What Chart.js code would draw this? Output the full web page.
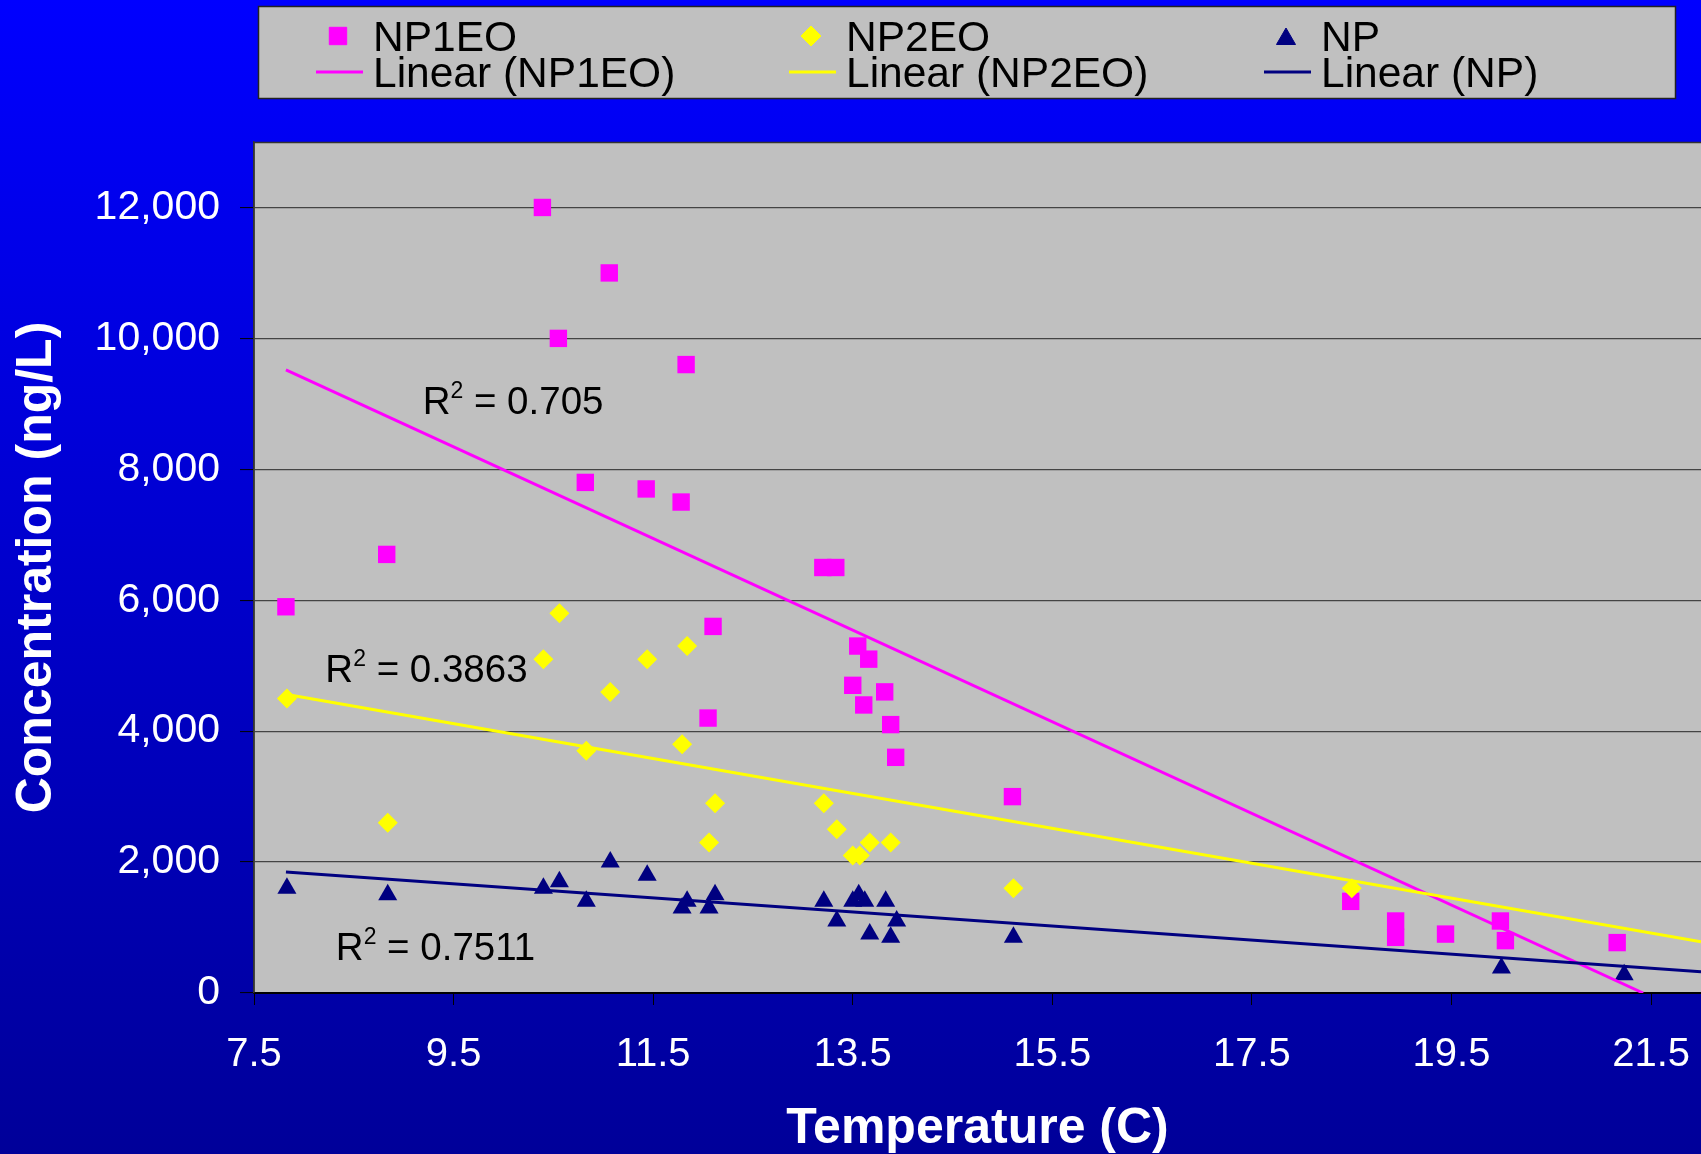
<!DOCTYPE html>
<html>
<head>
<meta charset="utf-8">
<script src="https://cdn.jsdelivr.net/npm/chart.js@4.4.0/dist/chart.umd.min.js"></script>
<style>
html,body{margin:0;padding:0;overflow:hidden;background:#0000cc;}
canvas{display:block}
</style>
</head>
<body>
<canvas id="c" width="1701" height="1154"></canvas>
<script>
// ---------- data ----------
const xTickValues = [7.5, 9.5, 11.5, 13.5, 15.5, 17.5, 19.5, 21.5];
const yTickValues = [0, 2000, 4000, 6000, 8000, 10000, 12000];

const np1eoTemp = [7.82, 8.83, 10.39, 10.55, 10.82, 11.06, 11.43, 11.78, 11.83, 12.05, 12.10, 13.20, 13.33, 13.50, 13.55, 13.61, 13.66, 13.82, 13.88, 13.93, 15.10, 18.49, 18.94, 18.94, 19.44, 19.99, 20.04, 21.16];
const np1eoConc = [5900, 6700, 12000, 10000, 7800, 11000, 7700, 7500, 9600, 4200, 5600, 6500, 6500, 4700, 5300, 4400, 5100, 4600, 4100, 3600, 3000, 1400, 1100, 850, 900, 1100, 800, 770];

const np2eoTemp = [7.83, 8.84, 10.40, 10.56, 10.83, 11.07, 11.44, 11.79, 11.84, 12.06, 12.12, 13.21, 13.34, 13.50, 13.57, 13.67, 13.88, 15.11, 18.50];
const np2eoConc = [4500, 2600, 5100, 5800, 3700, 4600, 5100, 3800, 5300, 2300, 2900, 2900, 2500, 2100, 2100, 2300, 2300, 1600, 1600];

const npTemp = [7.83, 8.84, 10.40, 10.56, 10.83, 11.07, 11.44, 11.79, 11.84, 12.06, 12.12, 13.21, 13.34, 13.50, 13.56, 13.62, 13.67, 13.83, 13.88, 13.94, 15.11, 20.00, 21.23];
const npConc = [1600, 1500, 1600, 1700, 1400, 2000, 1800, 1300, 1400, 1300, 1500, 1400, 1100, 1400, 1500, 1400, 900, 1400, 850, 1100, 850, 380, 280];

// trend line end points (as drawn in the picture)
const trendNP1EOTemp = [7.82, 21.42];
const trendNP1EOConc = [9520, 0];
const trendNP2EOTemp = [7.83, 22.0];
const trendNP2EOConc = [4560, 783];
const trendNPTemp = [7.82, 22.0];
const trendNPConc = [1850, 325];

// R-squared annotations
const r2Values = ['0.705', '0.3863', '0.7511'];
const r2AnchorTemp = [9.19, 8.215, 8.32];
const r2AnchorConc = [8850, 4750, 504];

// ---------- chart ----------
const FONT = '"Liberation Sans", Arial, Helvetica, sans-serif';
Chart.defaults.font.family = FONT;

function pts(xs, ys) { return xs.map((x, i) => ({x: x, y: ys[i]})); }

const MAGENTA = '#ff00ff', YELLOW = '#ffff00', NAVY = '#000080';

const bgPlugin = {
  id: 'bg',
  beforeDraw(chart) {
    const {ctx, width, height, chartArea: a} = chart;
    ctx.save();
    const g = ctx.createLinearGradient(0, 0, 0, height);
    g.addColorStop(0, '#0000ff');
    g.addColorStop(1, '#000099');
    ctx.fillStyle = g;
    ctx.fillRect(0, 0, width, height);
    ctx.fillStyle = '#c0c0c0';
    ctx.fillRect(a.left, a.top, a.right - a.left + 2, a.bottom - a.top);
    ctx.strokeStyle = '#333';
    ctx.lineWidth = 1.5;
    ctx.beginPath();
    ctx.moveTo(a.left, a.bottom);
    ctx.lineTo(a.left, a.top + 0.5);
    ctx.lineTo(a.right + 2, a.top + 0.5);
    ctx.stroke();
    ctx.restore();
  }
};

function drawMarker(ctx, style, r, x, y) {
  if (Chart.helpers && Chart.helpers.drawPoint) {
    Chart.helpers.drawPoint(ctx, {pointStyle: style, radius: r, rotation: 0, borderWidth: 1}, x, y);
    return;
  }
  ctx.beginPath();
  if (style === 'rect') {
    const s = r * Math.SQRT1_2;
    ctx.rect(x - s, y - s, 2 * s, 2 * s);
  } else if (style === 'rectRot') {
    ctx.moveTo(x, y - r); ctx.lineTo(x + r, y); ctx.lineTo(x, y + r); ctx.lineTo(x - r, y); ctx.closePath();
  } else {
    ctx.moveTo(x, y - r);
    ctx.lineTo(x + r * Math.sin(2 * Math.PI / 3), y - r * Math.cos(2 * Math.PI / 3));
    ctx.lineTo(x + r * Math.sin(4 * Math.PI / 3), y - r * Math.cos(4 * Math.PI / 3));
    ctx.closePath();
  }
  ctx.fill(); ctx.stroke();
}

const legendPlugin = {
  id: 'customLegend',
  afterDraw(chart) {
    const ctx = chart.ctx;
    const ds = chart.data.datasets;
    ctx.save();
    ctx.fillStyle = '#c0c0c0';
    ctx.fillRect(258, 6, 1418, 93);
    ctx.strokeStyle = '#222';
    ctx.lineWidth = 1.5;
    ctx.strokeRect(258.5, 6.5, 1417, 92);
    const cols = [373, 846, 1321];
    const scatterSets = ds.filter(d => !d.showLine);
    const lineSets = ds.filter(d => d.showLine);
    ctx.font = '42.5px ' + FONT;
    ctx.textBaseline = 'alphabetic';
    ctx.textAlign = 'left';
    for (let i = 0; i < 3; i++) {
      const s = scatterSets[i], l = lineSets[i];
      const x = cols[i];
      ctx.fillStyle = s.backgroundColor;
      ctx.strokeStyle = s.borderColor;
      ctx.lineWidth = 1;
      drawMarker(ctx, s.pointStyle, s.pointRadius, x - 35, s.pointStyle === 'triangle' ? 39 : 36);
      ctx.fillStyle = '#000';
      ctx.fillText(s.label, x, 51);
      ctx.strokeStyle = l.borderColor;
      ctx.lineWidth = 3;
      ctx.beginPath();
      ctx.moveTo(x - 57, 72);
      ctx.lineTo(x - 10, 72);
      ctx.stroke();
      ctx.fillStyle = '#000';
      ctx.fillText(l.label, x, 87);
    }
    ctx.restore();
  }
};

const r2Plugin = {
  id: 'r2',
  afterDatasetsDraw(chart) {
    const ctx = chart.ctx;
    const xs = chart.scales.x, ys = chart.scales.y;
    ctx.save();
    ctx.fillStyle = '#000';
    ctx.textBaseline = 'alphabetic';
    ctx.textAlign = 'left';
    for (let i = 0; i < r2Values.length; i++) {
      let x = xs.getPixelForValue(r2AnchorTemp[i]);
      const y = ys.getPixelForValue(r2AnchorConc[i]);
      ctx.font = '38.5px ' + FONT;
      ctx.fillText('R', x, y);
      x += ctx.measureText('R').width;
      ctx.font = '23px ' + FONT;
      ctx.fillText('2', x, y - 16);
      x += ctx.measureText('2').width;
      ctx.font = '38.5px ' + FONT;
      ctx.fillText(' = ' + r2Values[i], x, y);
    }
    ctx.restore();
  }
};

new Chart(document.getElementById('c'), {
  type: 'scatter',
  data: {
    datasets: [
      {label: 'Linear (NP1EO)', showLine: true, data: pts(trendNP1EOTemp, trendNP1EOConc), borderColor: MAGENTA, backgroundColor: MAGENTA, borderWidth: 3, pointRadius: 0, order: 3},
      {label: 'Linear (NP2EO)', showLine: true, data: pts(trendNP2EOTemp, trendNP2EOConc), borderColor: YELLOW, backgroundColor: YELLOW, borderWidth: 3, pointRadius: 0, order: 2},
      {label: 'Linear (NP)', showLine: true, data: pts(trendNPTemp, trendNPConc), borderColor: NAVY, backgroundColor: NAVY, borderWidth: 3, pointRadius: 0, order: 1},
      {label: 'NP1EO', showLine: false, data: pts(np1eoTemp, np1eoConc), pointStyle: 'rect', pointRadius: 12.3, backgroundColor: MAGENTA, borderColor: MAGENTA, borderWidth: 0, order: 6},
      {label: 'NP2EO', showLine: false, data: pts(np2eoTemp, np2eoConc), pointStyle: 'rectRot', pointRadius: 10, backgroundColor: YELLOW, borderColor: YELLOW, borderWidth: 0, order: 5},
      {label: 'NP', showLine: false, data: pts(npTemp, npConc), pointStyle: 'triangle', pointRadius: 11, backgroundColor: NAVY, borderColor: NAVY, borderWidth: 0, order: 4}
    ]
  },
  options: {
    responsive: false,
    animation: false,
    events: [],
    layout: {autoPadding: false, padding: {top: 142, left: 0, right: 0, bottom: 0}},
    plugins: {legend: {display: false}, tooltip: {enabled: false}},
    scales: {
      x: {
        type: 'linear', min: 7.5, max: 22.0,
        afterBuildTicks: s => { s.ticks = xTickValues.map(v => ({value: v})); },
        afterFit: s => { s.height = 161; s.paddingLeft = 0; s.paddingRight = 0; },
        ticks: {color: '#fff', font: {size: 40}, padding: 26, autoSkip: false, maxRotation: 0, callback: v => Number(v).toFixed(1)},
        grid: {drawOnChartArea: false, drawTicks: true, tickLength: 12, tickColor: '#000', tickWidth: 1},
        border: {display: true, color: '#000', width: 2},
        title: {display: true, text: 'Temperature (C)', color: '#fff', font: {size: 50, weight: 'bold'}, padding: {top: 0, bottom: -5}}
      },
      y: {
        type: 'linear', min: 0, max: 13000,
        afterBuildTicks: s => { s.ticks = yTickValues.map(v => ({value: v})); },
        afterFit: s => { s.width = 254; s.paddingTop = 0; s.paddingBottom = 0; },
        ticks: {color: '#fff', font: {size: 41}, padding: 20, callback: v => Number(v).toLocaleString('en-US')},
        grid: {color: c => (c.tick && c.tick.value === 0 ? '#000' : '#444'), lineWidth: 1.2, tickLength: 14, tickColor: '#000', tickWidth: 1},
        border: {display: true, color: '#333', width: 1.5},
        title: {display: true, text: 'Concentration (ng/L)', color: '#fff', font: {size: 50, weight: 'bold'}, padding: {top: 7, bottom: 0}}
      }
    }
  },
  plugins: [bgPlugin, r2Plugin, legendPlugin]
});
</script>
</body>
</html>
